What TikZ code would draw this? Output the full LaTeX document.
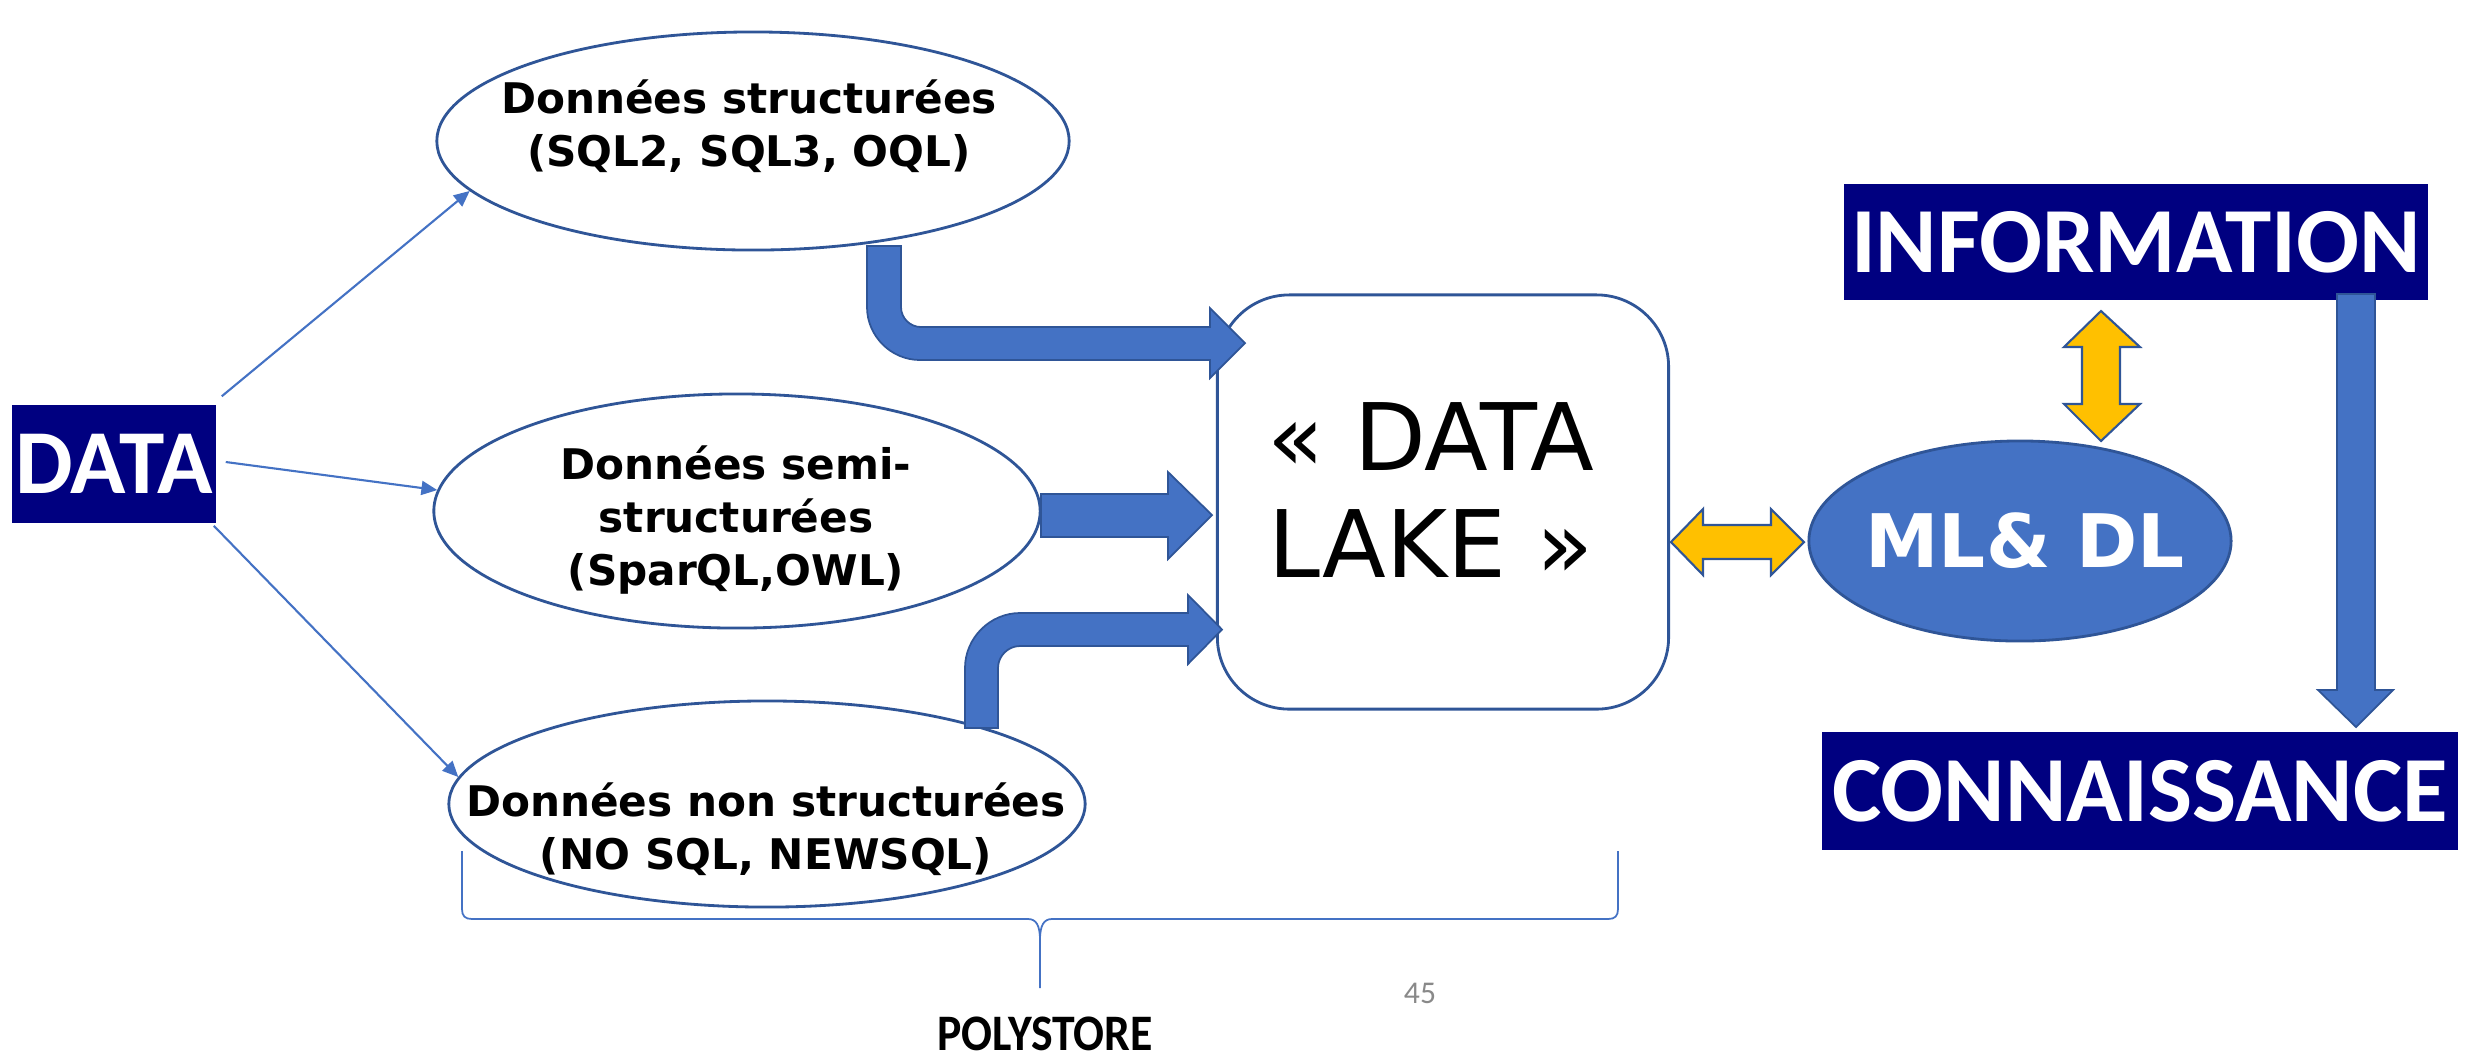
\documentclass[tikz,border=0pt]{standalone}
\usepackage{fontspec}
\setmainfont{DejaVu Sans}
\newfontfamily\carlito{Carlito}
\usetikzlibrary{shapes.geometric,arrows.meta,calc}
\definecolor{navybox}{RGB}{0,0,128}
\definecolor{accent}{HTML}{4472C4}
\definecolor{edgeblue}{HTML}{2F5597}
\definecolor{gold}{HTML}{FFC000}
\definecolor{pagegray}{HTML}{898989}
\begin{document}
\begin{tikzpicture}[x=0.01cm,y=-0.01cm,
  navylabel/.style={fill=navybox, text=white, font=\carlito\bfseries\fontsize{26.5}{30}\selectfont, inner sep=0pt},
  dataell/.style={ellipse, draw=edgeblue, line width=0.8pt, fill=white, inner sep=0pt},
  ellipsetext/.style={font=\bfseries\fontsize{12}{15}\selectfont, align=center, text=black},
  thinarrow/.style={draw=accent, line width=0.6pt, -{Triangle[length=4.5pt,width=4pt]}},
  fatarrow/.style={fill=accent, draw=edgeblue, line width=0.5pt, line join=miter},
  goldarrow/.style={fill=gold, draw=edgeblue, line width=0.6pt, line join=miter},
  bracestyle/.style={draw=accent, line width=0.5pt},
]
\useasboundingbox (0,0) rectangle (2471,1059);

% boxes
\node[navylabel, minimum width=2.04cm, minimum height=1.18cm, font=\carlito\bfseries\fontsize{26}{30}\selectfont] (data) at (114,464) {DATA};
\node[navylabel, minimum width=5.84cm, minimum height=1.16cm] (info) at (2136,242) {INFORMATION};
\node[navylabel, minimum width=6.36cm, minimum height=1.18cm] (conn) at (2140,791) {CONNAISSANCE};

% ellipses
\node[dataell, minimum width=6.32cm, minimum height=2.18cm] (e1) at (753,141) {};
\node[dataell, minimum width=6.06cm, minimum height=2.34cm] (e2) at (737,511) {};
\node[dataell, minimum width=6.36cm, minimum height=2.06cm] (e3) at (767,804) {};
\node[ellipsetext] (t1) at (749,126) {Données structurées\\(SQL2, SQL3, OQL)};
\node[ellipsetext] (t2) at (736,520) {Données semi-\\structurées\\(SparQL,OWL)};
\node[ellipsetext] (t3) at (766,829) {Données non structurées\\(NO SQL, NEWSQL)};

% data lake
\node[draw=edgeblue, line width=0.8pt, rounded corners=0.72cm, minimum width=4.51cm, minimum height=4.14cm] (lake) at (1443,502) {};
\node[font=\fontsize{26.5}{30.5}\selectfont, align=center] (laketext) at (1431,490) {« DATA\\LAKE »};

% ML & DL
\node[ellipse, fill=accent, draw=edgeblue, line width=0.8pt, minimum width=4.22cm, minimum height=2.0cm, inner sep=0pt] (ml) at (2020,541) {};
\node[text=white, font=\bfseries\fontsize{21}{25}\selectfont] (mltext) at (2025,541) {ML\& DL};

% thin arrows
\draw[thinarrow] ([shift={(5,-8)}]data.north east) -- (e1.190);
\draw[thinarrow] ([shift={(9,-2)}]data.east) -- (e2.176.5);
\draw[thinarrow] ([shift={(-3,2)}]data.south east) -- (e3.175);

% fat arrows to the lake
\path[fatarrow] (867,246) -- (901,246) -- (901,307) .. controls (901,318) and (910,327) .. (921,327) -- (1210,327) -- (1210,308) -- (1245,343) -- (1210,378) -- (1210,360) -- (920,360) .. controls (891,360) and (867,336) .. (867,307) -- cycle;
\path[fatarrow] (1041,494) -- (1168,494) -- (1168,472) -- (1212,515) -- (1168,559) -- (1168,537) -- (1041,537) -- cycle;
\path[fatarrow] (965,728) -- (965,668) .. controls (965,638) and (990,613) .. (1020,613) -- (1188,613) -- (1188,595) -- (1222,629.5) -- (1188,664) -- (1188,646) -- (1020,646) .. controls (1008,646) and (998,656) .. (998,668) -- (998,728) -- cycle;

% information -> connaissance
\path[fatarrow] (2337,294) -- (2375,294) -- (2375,690) -- (2393,690) -- (2356,727) -- (2318,690) -- (2337,690) -- cycle;

% gold double arrows
\path[goldarrow] (2101,311) -- (2140,347) -- (2120,347) -- (2120,404) -- (2140,404) -- (2101,441) -- (2064,404) -- (2082,404) -- (2082,347) -- (2064,347) -- cycle;
\path[goldarrow] (1671,542) -- (1703,509) -- (1703,525) -- (1771,525) -- (1771,509) -- (1804,542) -- (1771,575) -- (1771,559) -- (1703,559) -- (1703,575) -- cycle;

% brace
\coordinate (bracetip) at (1040,988);
\draw[bracestyle] (462,851) -- (462,909) .. controls (462,916) and (465,919) .. (472,919) -- (1028,919) .. controls (1036,919) and (1040,925) .. (1040,940) -- (bracetip);
\draw[bracestyle] (1618,851) -- (1618,909) .. controls (1618,916) and (1615,919) .. (1608,919) -- (1052,919) .. controls (1044,919) and (1040,925) .. (1040,940);

\node[font=\carlito\bfseries\fontsize{13}{15}\selectfont, anchor=base, inner sep=0pt] (poly) at (1045,1050) {\scalebox{1}[1.12]{POLYSTORE}};
\node[font=\carlito\fontsize{9}{11}\selectfont, text=pagegray] (pnum) at (1420,993) {45};
\end{tikzpicture}
\end{document}
